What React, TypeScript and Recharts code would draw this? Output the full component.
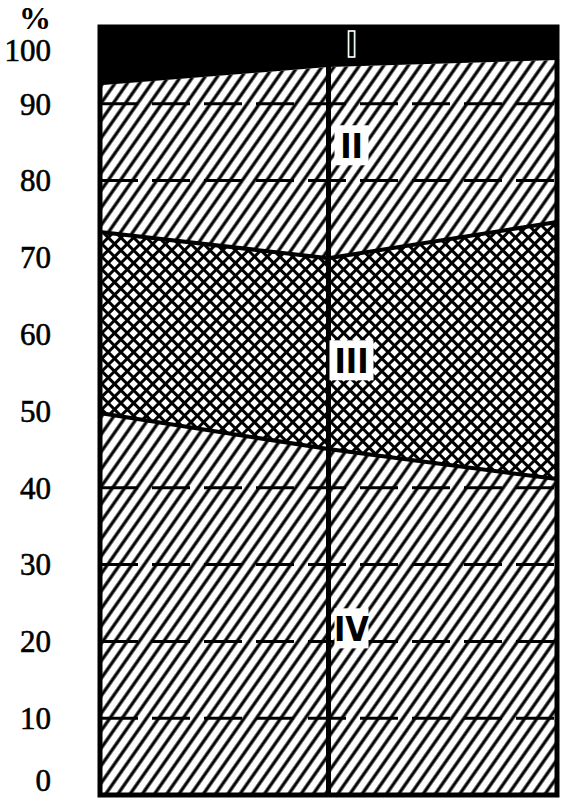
import { AreaChart, Area, XAxis, YAxis, CartesianGrid, ReferenceLine, ReferenceArea, ReferenceDot } from "recharts"

// three points in time, shares in percent (stacked to 100)
const periods = ["1", "2", "3"]
const groupIV = [50.0, 45.3, 41.4]
const groupIII = [23.3, 24.6, 33.2]
const groupII = [19.1, 24.9, 21.1]
const groupI = [7.6, 5.2, 4.3]
const yTicks = [0, 10, 20, 30, 40, 50, 60, 70, 80, 90, 100]
const bandNames = ["I", "II", "III", "IV"]
const bandNameLevels = [97.8, 84.6, 56.6, 21.7]

const data = periods.map((p, i) => ({
  period: p,
  iv: groupIV[i],
  iii: groupIII[i],
  ii: groupII[i],
  i: groupI[i],
}))

const serif = "'Liberation Serif', 'DejaVu Serif', serif"

function PercentTick({ y, payload }: any) {
  const v = payload.value
  const shift = v === 100 ? 23 : v === 0 ? -15 : 0
  return (
    <text x={51} y={y + shift} dy="0.35em" textAnchor="end" fontFamily={serif} fontSize={31} fill="#000" stroke="#000" strokeWidth={0.6}>
      {v}
    </text>
  )
}

function bandLabel(text: string, dark: boolean) {
  return (props: any) => {
    const { x, y } = props.viewBox
    const cx = x + 23
    const w = text.length * 10 + 14
    return (
      <g>
        {!dark && <rect x={cx - w / 2} y={y - 20} width={w} height={40} fill="#fff" />}
        <text
          x={cx}
          y={y}
          dy="0.36em"
          textAnchor="middle"
          fontFamily="'DejaVu Sans Condensed', 'DejaVu Sans', sans-serif"
          fontWeight="bold"
          fontSize={dark ? 36 : 34}
          fill="#000"
          stroke={dark ? "#fff" : "none"}
          strokeWidth={dark ? 1.5 : 0}
        >
          {text}
        </text>
      </g>
    )
  }
}

export default function App() {
  return (
    <div style={{ position: "absolute", left: 0, top: 0, background: "#fff" }}>
      <AreaChart width={565} height={806} data={data} margin={{ top: 27, right: 8, bottom: 11, left: 0 }}>
        <defs>
          <pattern id="hatch" patternUnits="userSpaceOnUse" width="10" height="10" patternTransform="rotate(35)">
            <line x1="2" y1="0" x2="2" y2="10" stroke="#000" strokeWidth="3.2" />
          </pattern>
          <pattern id="cross" patternUnits="userSpaceOnUse" width="9" height="9" patternTransform="rotate(45)">
            <rect width="9" height="9" fill="#fff" />
            <line x1="1.5" y1="0" x2="1.5" y2="9" stroke="#000" strokeWidth="3" />
            <line x1="0" y1="1.5" x2="9" y2="1.5" stroke="#000" strokeWidth="3" />
          </pattern>
        </defs>
        <CartesianGrid vertical={false} stroke="#000" strokeWidth={3} strokeDasharray="38 14" />
        <XAxis dataKey="period" hide />
        <YAxis
          domain={[0, 100]}
          ticks={yTicks}
          width={100}
          axisLine={false}
          tickLine={false}
          tick={<PercentTick />}
          interval={0}
          label={{
            content: () => (
              <text x={35} y={29} textAnchor="middle" fontFamily={serif} fontWeight="bold" fontSize={32} fill="#000">
                %
              </text>
            ),
          }}
        />
        <Area type="linear" dataKey="iv" stackId="s" fill="url(#hatch)" fillOpacity={1} stroke="#000" strokeWidth={8} isAnimationActive={false} />
        <Area type="linear" dataKey="iii" stackId="s" fill="url(#cross)" fillOpacity={1} stroke="#000" strokeWidth={4} isAnimationActive={false} />
        <Area type="linear" dataKey="ii" stackId="s" fill="url(#hatch)" fillOpacity={1} stroke="none" isAnimationActive={false} />
        <Area type="linear" dataKey="i" stackId="s" fill="#000" fillOpacity={1} stroke="#000" strokeWidth={1} isAnimationActive={false} />
        <ReferenceLine x={periods[1]} stroke="#000" strokeWidth={5} />
        <ReferenceArea x1={periods[0]} x2={periods[2]} y1={0} y2={100} fill="none" stroke="#000" strokeWidth={5} ifOverflow="visible" />
        {bandNames.map((name, k) => (
          <ReferenceDot
            key={name}
            x={periods[1]}
            y={bandNameLevels[k]}
            r={0}
            fill="none"
            stroke="none"
            label={bandLabel(name, k === 0)}
          />
        ))}
      </AreaChart>
    </div>
  )
}
